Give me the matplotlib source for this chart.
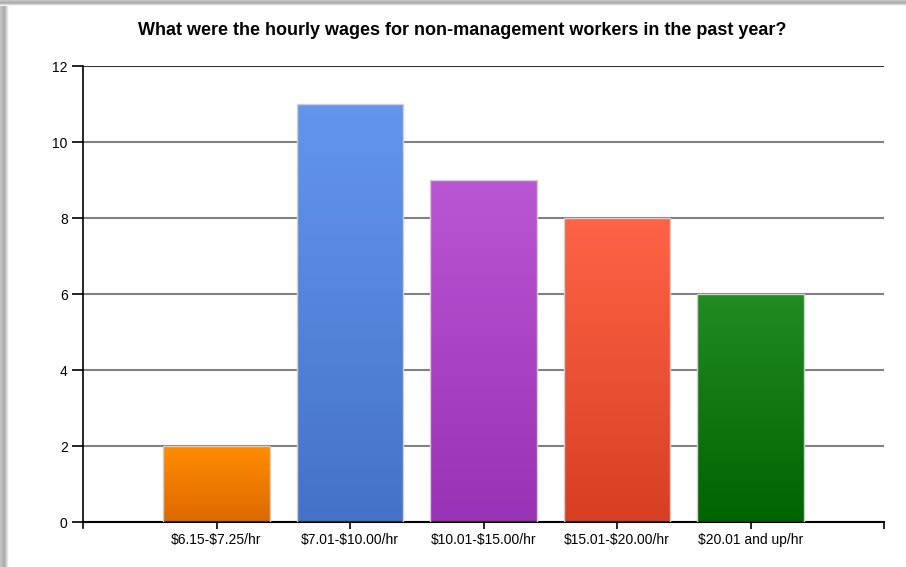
import numpy as np
from matplotlib import pyplot as plt
from matplotlib.colors import LinearSegmentedColormap

# Respostas da pesquisa por faixa salarial.
categories = ['$6.15-$7.25/hr', '$7.01-$10.00/hr', '$10.01-$15.00/hr',
              '$15.01-$20.00/hr', '$20.01 and up/hr']
counts = [2, 11, 9, 8, 6]
top_colors = ['#ff8c00', '#6495ed', '#ba55d3', '#ff6347', '#228b22']
bottom_colors = ['#dd6a00', '#4472c8', '#9932b4', '#d83f22', '#006400']
y_ticks = [0, 2, 4, 6, 8, 10, 12]

plt.rcParams['font.family'] = ['Liberation Sans', 'DejaVu Sans']
plt.rcParams['text.parse_math'] = False

fig = plt.figure(figsize=(9.06, 5.67), dpi=100)
fig.patch.set_facecolor('white')

# Sombra cinza no topo e à esquerda.
bg = fig.add_axes([0, 0, 1, 1], zorder=-10)
bg.set_xlim(0, 906)
bg.set_ylim(567, 0)
bg.axis('off')
shade = LinearSegmentedColormap.from_list('shade', ['#c8c8c8', '#a8a8a8', '#ffffff'])
bg.imshow(np.linspace(0, 1, 20)[:, None].T, extent=(0, 9, 567, 5), cmap=shade,
          aspect='auto')
bg.imshow(np.linspace(0, 1, 20)[:, None], extent=(0, 906, 6, 0), cmap=shade,
          aspect='auto')

ax = fig.add_axes([83 / 906, 1 - 522 / 567, 801 / 906, 456 / 567])
x = np.arange(1, len(categories) + 1)
bars = ax.bar(x, counts, width=0.8, facecolor='none', edgecolor='#d0d0d0',
              linewidth=1.0, zorder=3)

# Preenchimento em degradê vertical de cada barra.
for bar, c_top, c_bot in zip(bars, top_colors, bottom_colors):
    x0, y0 = bar.get_x(), bar.get_y()
    w, h = bar.get_width(), bar.get_height()
    cmap = LinearSegmentedColormap.from_list('g', [c_bot, c_top])
    ax.imshow(np.linspace(0, 1, 64)[:, None], extent=(x0, x0 + w, y0, y0 + h),
              origin='lower', cmap=cmap, aspect='auto', zorder=2)

ax.set_xlim(0, 6)
ax.set_ylim(0, 12)
ax.set_yticks(y_ticks)
ax.set_xticks(list(x) + [6])
ax.set_xticklabels(categories + [''])

ax.yaxis.grid(True, color='#808080', linewidth=1.5, zorder=1)
ax.set_axisbelow(True)
ax.get_ygridlines()[-1].set_color('#333333')

for side in ['top', 'right']:
    ax.spines[side].set_visible(False)
ax.spines['left'].set_linewidth(1.2)
ax.spines['bottom'].set_linewidth(1.5)
ax.spines['left'].set_bounds(-0.15, 12)

ax.tick_params(axis='y', length=8, width=1.2, pad=3, labelsize=10)
ax.tick_params(axis='x', length=5, width=1.2, pad=3, labelsize=10)

fig.text(0.51, 0.947, 'What were the hourly wages for non-management workers in the past year?',
         ha='center', va='center', fontsize=13, fontweight='bold')

fig.savefig('out.png', dpi=100)
